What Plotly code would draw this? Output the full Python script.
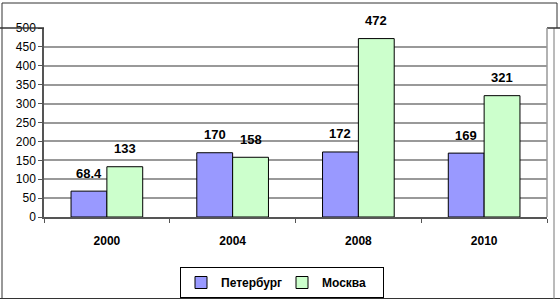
import plotly.graph_objects as go

years = ["2000", "2004", "2008", "2010"]
spb = [68.4, 170, 172, 169]
msk = [133, 158, 472, 321]
spb_labels = ["68.4", "170", "172", "169"]
msk_labels = ["133", "158", "472", "321"]
series_names = ["Петербург", "Москва"]
y_ticks = [0, 50, 100, 150, 200, 250, 300, 350, 400, 450, 500]

W, H = 560, 303
L, R, T, B = 44, 547, 28, 217  # plot area pixel box

def px(x):
    return (x - L) / (R - L)

def py(y):
    return (B - y) / (B - T)

fig = go.Figure()
fig.add_trace(go.Bar(x=years, y=spb, name=series_names[0],
                     marker=dict(color="#9999FF", line=dict(color="#000000", width=1))))
fig.add_trace(go.Bar(x=years, y=msk, name=series_names[1],
                     marker=dict(color="#CCFFCC", line=dict(color="#000000", width=1))))

ann = []
for i, y in enumerate(years):
    ann.append(dict(x=i, y=spb[i], text="<b>%s</b>" % spb_labels[i], showarrow=False,
                    xshift=-18, yshift=18, yanchor="middle",
                    font=dict(family="Arial", size=13, color="#000")))
    ann.append(dict(x=i, y=msk[i], text="<b>%s</b>" % msk_labels[i], showarrow=False,
                    xshift=18, yshift=18, yanchor="middle",
                    font=dict(family="Arial", size=13, color="#000")))

line_col = "#333333"
shapes = [
    # outer frame
    dict(type="line", xref="paper", yref="paper", x0=px(2), x1=px(2), y0=py(3), y1=py(299),
         line=dict(color=line_col, width=1)),
    dict(type="line", xref="paper", yref="paper", x0=px(2), x1=px(557), y0=py(3), y1=py(3),
         line=dict(color=line_col, width=1)),
    dict(type="line", xref="paper", yref="paper", x0=px(0), x1=px(560), y0=py(298.5), y1=py(298.5),
         line=dict(color=line_col, width=1)),
    dict(type="line", xref="paper", yref="paper", x0=px(557), x1=px(557), y0=py(3), y1=py(28),
         line=dict(color=line_col, width=1)),
    dict(type="line", xref="paper", yref="paper", x0=px(554), x1=px(554), y0=py(28), y1=py(299),
         line=dict(color="#777777", width=1)),
    dict(type="line", xref="paper", yref="paper", x0=px(0), x1=px(44), y0=py(28), y1=py(28),
         line=dict(color=line_col, width=1.5)),
    dict(type="line", xref="paper", yref="paper", x0=px(547), x1=px(560), y0=py(28), y1=py(28),
         line=dict(color=line_col, width=1.5)),
    # plot area right border
    dict(type="line", xref="paper", yref="paper", x0=1, x1=1, y0=0, y1=1,
         line=dict(color="#999999", width=1.5)),
]

fig.update_layout(
    width=W, height=H,
    margin=dict(l=L, r=W - R, t=T, b=H - B, pad=0, autoexpand=False),
    paper_bgcolor="white", plot_bgcolor="white",
    barmode="group", bargap=0.43, bargroupgap=0,
    font=dict(family="Arial", size=12, color="#000"),
    showlegend=True,
    legend=dict(orientation="h", x=px(180), y=py(267), xanchor="left", yanchor="top",
                bordercolor="#000000", borderwidth=1, bgcolor="white",
                font=dict(family="Arial", size=12, color="#000", weight="bold"),
                entrywidth=56, entrywidthmode="pixels", itemwidth=30),
    annotations=ann,
    shapes=shapes,
    xaxis=dict(type="category", range=[-0.5, len(years) - 0.5], autorange=False,
               showline=True, linecolor="#555555", linewidth=1.5, ticks="outside",
               tickson="boundaries", ticklen=4, tickcolor="#555555",
               tickfont=dict(family="Arial", size=12, color="#000", weight="bold"),
               ticklabelstandoff=12, showgrid=False),
    yaxis=dict(range=[0, 500], tickvals=y_ticks, showline=True, linecolor="#555555",
               linewidth=1.5, ticks="outside", ticklen=4, tickcolor="#555555",
               showgrid=True, gridcolor="#999999", gridwidth=1.5, zeroline=False,
               tickfont=dict(family="Arial", size=12, color="#000")),
)

fig.write_html("out.html")
